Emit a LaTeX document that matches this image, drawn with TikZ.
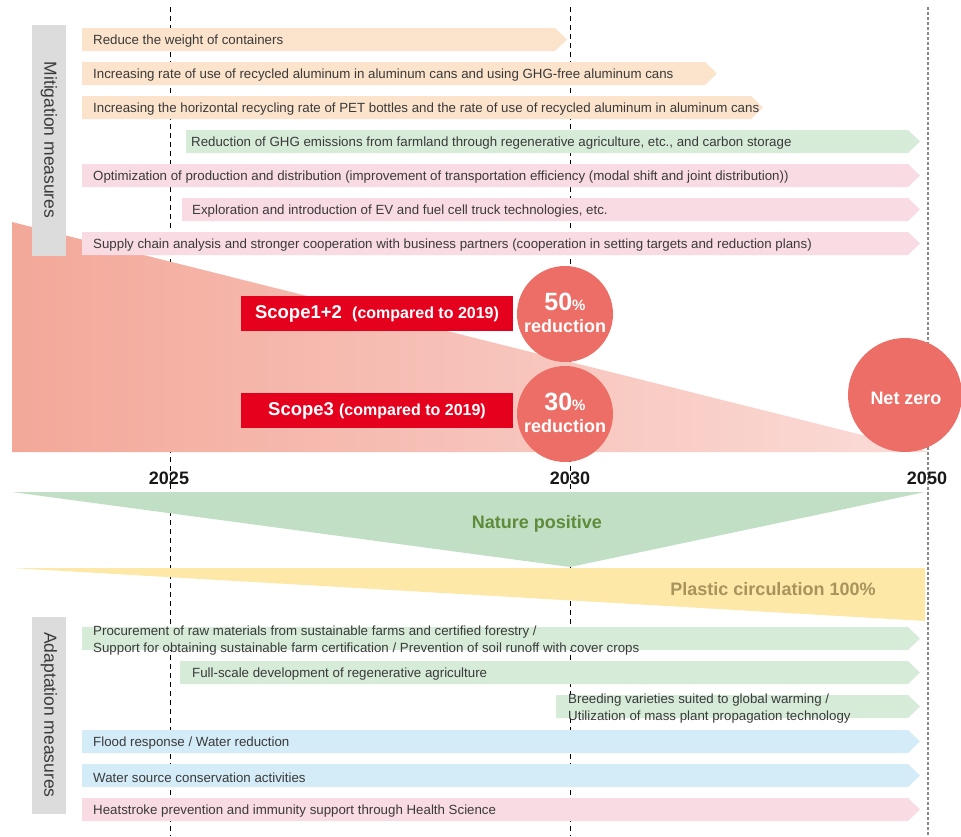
\documentclass[tikz,border=0pt]{standalone}
\usepackage{fontspec}
\setmainfont{Liberation Sans}
\definecolor{peach}{HTML}{FCE3CB}
\definecolor{lgreen}{HTML}{D6EBD8}
\definecolor{lpink}{HTML}{F9DBE3}
\definecolor{lblue}{HTML}{D4EBF8}
\definecolor{gbox}{HTML}{DCDCDC}
\definecolor{txt}{HTML}{3A3A3A}
\definecolor{salL}{HTML}{F3A899}
\definecolor{salR}{HTML}{FBDCD8}
\definecolor{circ}{HTML}{EC6E66}
\definecolor{scred}{HTML}{E5001E}
\definecolor{natg}{HTML}{C1DFC5}
\definecolor{natt}{HTML}{5E8C3A}
\definecolor{plas}{HTML}{FDE8A8}
\definecolor{plast}{HTML}{A8935C}
\definecolor{dgray}{HTML}{8A8A8A}
\tikzset{
  bartext/.style={anchor=west,inner sep=0pt,text=txt,font=\fontsize{13.3}{16.5}\selectfont,align=left},
  sidebox/.style={fill=gbox},
  sidetext/.style={rotate=-90,inner sep=0pt,text=txt,font=\fontsize{17.5}{20}\selectfont},
  yearlab/.style={inner sep=0pt,font=\fontsize{18}{20}\selectfont\bfseries,text=black!90},
  scopebox/.style={fill=scred,inner sep=0pt,text=white,minimum width=272pt,minimum height=35pt,font=\bfseries},
  redcirc/.style={circle,fill=circ,inner sep=0pt},
  circtext/.style={inner sep=0pt,text=white,font=\bfseries},
  bigtext/.style={inner sep=0pt,font=\fontsize{18}{20}\selectfont\bfseries},
  yeargrid/.style={line width=1pt,dash pattern=on 5pt off 4pt,black},
  endgrid/.style={line width=2pt,dash pattern=on 3pt off 2pt,dgray}
}
% #1 name, #2 x0, #3 ytop, #4 tip x, #5 fill, #6 text x, #7 text
\newcommand\mbar[7]{%
  \fill[#5] (#2,#3) -- ({#4-12},#3) -- (#4,{#3+11.5}) -- ({#4-12},{#3+23}) -- (#2,{#3+23}) -- cycle;
  \node[bartext] (#1) at (#6,{#3+13.5}) {#7};}
\begin{document}
\begin{tikzpicture}[x=1pt,y=-1pt]
\useasboundingbox (0,0) rectangle (961,836);
% grid lines
\coordinate (t25) at (170,7); \coordinate (b25) at (170,836);
\coordinate (t30) at (570,7); \coordinate (b30) at (570,836);
\coordinate (t50) at (928,7); \coordinate (b50) at (928,836);
\draw[yeargrid] (t25) -- (b25);
\draw[yeargrid] (t30) -- (b30);
\draw[endgrid] (t50) -- (b50);
% emissions wedge
\shade[left color=salL,right color=salR] (12,222) -- (930,452) -- (12,452) -- cycle;
% mitigation bars
\mbar{m1}{82}{28}{567}{peach}{93}{Reduce the weight of containers}
\mbar{m2}{82}{62}{717}{peach}{93}{Increasing rate of use of recycled aluminum in aluminum cans and using GHG-free aluminum cans}
\mbar{m3}{82}{96}{763}{peach}{93}{Increasing the horizontal recycling rate of PET bottles and the rate of use of recycled aluminum in aluminum cans}
\mbar{m4}{186}{130}{920}{lgreen}{191}{Reduction of GHG emissions from farmland through regenerative agriculture, etc., and carbon storage}
\mbar{m5}{82}{164}{920}{lpink}{93}{Optimization of production and distribution (improvement of transportation efficiency (modal shift and joint distribution))}
\mbar{m6}{182}{198}{920}{lpink}{192}{Exploration and introduction of EV and fuel cell truck technologies, etc.}
\mbar{m7}{82}{232}{920}{lpink}{93}{Supply chain analysis and stronger cooperation with business partners (cooperation in setting targets and reduction plans)}
% side boxes
\fill[sidebox] (32,25) rectangle (66,256);
\node[sidetext] (mit) at (49,140) {Mitigation measures};
\fill[sidebox] (32,617) rectangle (66,814);
\node[sidetext] (ada) at (49,715) {Adaptation measures};
% nature positive and plastic
\fill[natg] (12,492) -- (925,492) -- (570,567) -- cycle;
\node[bigtext,text=natt] (nat) at (537,524) {Nature positive};
\fill[plas] (12,568) -- (925,568) -- (925,621) -- cycle;
\node[bigtext,text=plast] (pla) at (773,589) {Plastic circulation 100\%};
% years
\node[yearlab] (y25) at (169,478) {2025};
\node[yearlab] (y30) at (570,478) {2030};
\node[yearlab] (y50) at (927,478) {2050};
% adaptation bars
\mbar{a1}{82}{627}{920}{lgreen}{93}{Procurement of raw materials from sustainable farms and certified forestry /\\Support for obtaining sustainable farm certification / Prevention of soil runoff with cover crops}
\mbar{a2}{180}{661}{920}{lgreen}{192}{Full-scale development of regenerative agriculture}
\mbar{a3}{556}{695}{920}{lgreen}{568}{Breeding varieties suited to global warming /\\Utilization of mass plant propagation technology}
\mbar{a4}{82}{730}{920}{lblue}{93}{Flood response / Water reduction}
\mbar{a5}{82}{764}{920}{lblue}{93}{Water source conservation activities}
\mbar{a6}{82}{798}{920}{lpink}{93}{Heatstroke prevention and immunity support through Health Science}
% scope labels
\node[scopebox] (s12) at (377,313.5) {\fontsize{18.5}{20}\selectfont Scope1+2\ \ \fontsize{16}{20}\selectfont(compared to 2019)};
\node[scopebox] (s3) at (377,410.5) {\fontsize{18.5}{20}\selectfont Scope3 \fontsize{16}{20}\selectfont(compared to 2019)};
% circles
\node[redcirc,minimum size=96pt] (c50) at (565,314) {};
\node[circtext] (p50) at (565,302) {\fontsize{25}{26}\selectfont 50\fontsize{15}{16}\selectfont\%};
\node[circtext] (r50) at (565,326) {\fontsize{18}{20}\selectfont reduction};
\node[redcirc,minimum size=96pt] (c30) at (565,414) {};
\node[circtext] (p30) at (565,402) {\fontsize{25}{26}\selectfont 30\fontsize{15}{16}\selectfont\%};
\node[circtext] (r30) at (565,426) {\fontsize{18}{20}\selectfont reduction};
\node[redcirc,minimum size=114pt] (cnz) at (905,395) {};
\node[circtext] (nz) at (906,398) {\fontsize{18}{20}\selectfont Net zero};
\end{tikzpicture}
\end{document}
